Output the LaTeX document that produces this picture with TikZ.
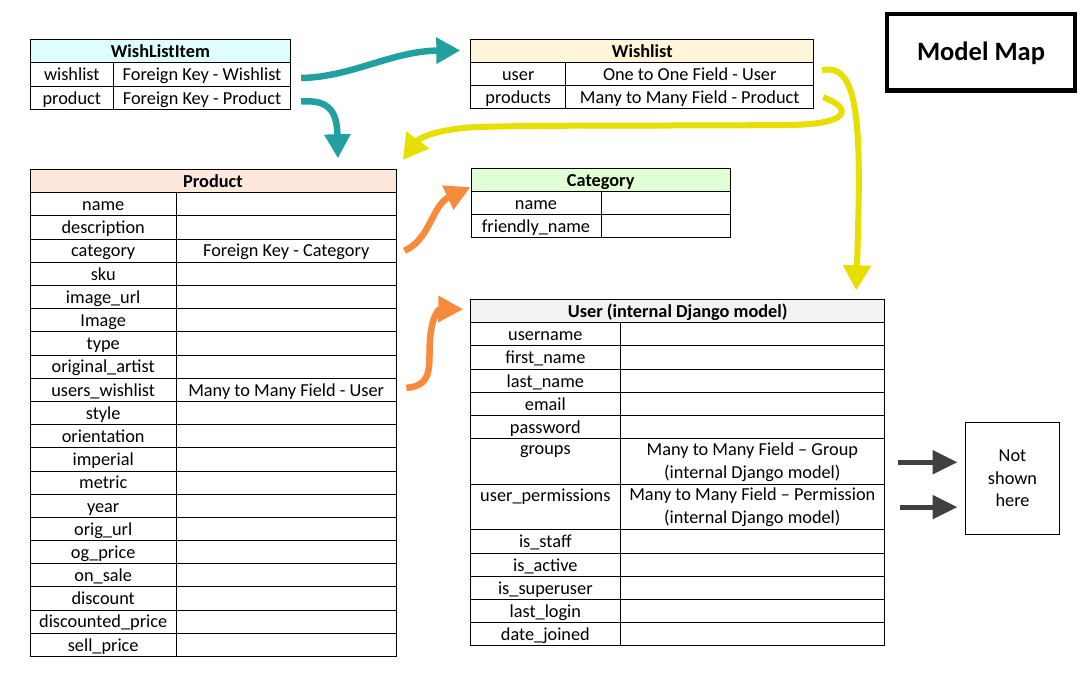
\documentclass[tikz,border=0pt]{standalone}
\usepackage{fontspec}
\setmainfont{Carlito}
\usetikzlibrary{arrows.meta,calc}
\definecolor{hcyan}{HTML}{DEFDFD}
\definecolor{hcream}{HTML}{FFF5D9}
\definecolor{hpeach}{HTML}{FDE9DC}
\definecolor{hgreen}{HTML}{E0FFD4}
\definecolor{hgray}{HTML}{F2F2F2}
\definecolor{tealc}{HTML}{22A0A0}
\definecolor{yelc}{HTML}{E6DF00}
\definecolor{orac}{HTML}{F88A3C}
\definecolor{grayc}{HTML}{404040}
\begin{document}
\begin{tikzpicture}[x=1pt,y=-1pt,
  cellbase/.style={draw=black, line width=0.9pt, rectangle, inner sep=0pt, anchor=north west, font=\fontsize{18.3}{23}\selectfont},
  cell/.style={cellbase, text height=15pt, text depth=2.5pt},
  cellml/.style={cellbase, align=center},
  head/.style={cell, font=\fontsize{18.3}{23}\selectfont\bfseries},
  tealarr/.style={draw=tealc, line width=6.5pt, -{Triangle[length=24pt,width=25pt]}},
  yelarr/.style={draw=yelc, line width=6pt, -{Triangle[length=25pt,width=27pt]}},
  oraarr/.style={draw=orac, line width=6.5pt, -{Triangle[length=25pt,width=25pt]}},
  grayarr/.style={draw=grayc, line width=5pt, -{Triangle[length=25pt,width=23pt]}},
  titlebox/.style={draw=black, line width=4.5pt, rectangle, minimum width=188pt, minimum height=76.5pt, text height=20pt, text depth=3pt, font=\fontsize{26.5}{30}\selectfont\bfseries},
  notebox/.style={draw=black, line width=0.9pt, rectangle, minimum width=94pt, minimum height=112pt, align=center, font=\fontsize{18.3}{22.5}\selectfont}
]
\useasboundingbox (0,0) rectangle (1089,682);

% ---------- WishListItem ----------
\node[head, fill=hcyan, minimum width=260.5pt, minimum height=23pt] (wlih) at (29.7,39.3) {WishListItem};
\node[cell, minimum width=83.3pt, minimum height=23.5pt] (wli1k) at (29.7,62.3) {wishlist};
\node[cell, minimum width=177.2pt, minimum height=23.5pt] (wli1v) at (113,62.3) {Foreign Key - Wishlist};
\node[cell, minimum width=83.3pt, minimum height=23.5pt] (wli2k) at (29.7,85.8) {product};
\node[cell, minimum width=177.2pt, minimum height=23.5pt] (wli2v) at (113,85.8) {Foreign Key - Product};

% ---------- Wishlist ----------
\node[head, fill=hcream, minimum width=343pt, minimum height=23pt] (wlh) at (470.3,39.3) {Wishlist};
\node[cell, minimum width=95pt, minimum height=23pt] (wl1k) at (470.3,62.3) {user};
\node[cell, minimum width=248pt, minimum height=23pt] (wl1v) at (565.3,62.3) {One to One Field - User};
\node[cell, minimum width=95pt, minimum height=23pt] (wl2k) at (470.3,85.3) {products};
\node[cell, minimum width=248pt, minimum height=23pt] (wl2v) at (565.3,85.3) {Many to Many Field - Product};

% ---------- Model Map ----------
\node[titlebox] (mm) at (981,52.5) {Model Map};

% ---------- Product ----------
\node[head, fill=hpeach, minimum width=366pt, minimum height=23pt] (ph) at (29.5,169.3) {Product};
\foreach \k/\v [count=\i from 0] in {name/{},description/{},category/Foreign Key - Category,sku/{},image\_url/{},Image/{},type/{},original\_artist/{},users\_wishlist/Many to Many Field - User,style/{},orientation/{},imperial/{},metric/{},year/{},orig\_url/{},og\_price/{},on\_sale/{},discount/{},discounted\_price/{},sell\_price/{}}{
  \pgfmathsetmacro\yy{192.3+\i*23.185}
  \node[cell, minimum width=146.5pt, minimum height=23.185pt] (p\i k) at (29.5,\yy) {\k};
  \node[cell, minimum width=219.5pt, minimum height=23.185pt] (p\i v) at (176,\yy) {\v};
}

% ---------- Category ----------
\node[head, fill=hgreen, minimum width=259.5pt, minimum height=22.7pt] (ch) at (470.5,168.3) {Category};
\node[cell, minimum width=130pt, minimum height=23pt] (c1k) at (470.5,191) {name};
\node[cell, minimum width=129.5pt, minimum height=23pt] (c1v) at (600.5,191) {};
\node[cell, minimum width=130pt, minimum height=23pt] (c2k) at (470.5,214) {friendly\_name};
\node[cell, minimum width=129.5pt, minimum height=23pt] (c2v) at (600.5,214) {};

% ---------- User ----------
\node[head, fill=hgray, minimum width=414pt, minimum height=23pt] (uh) at (470.3,299.3) {User (internal Django model)};
\foreach \k/\top/\h [count=\i] in {username/322.3/23, first\_name/345.3/23.7, last\_name/369/23.3, email/392.3/23, password/415.3/23}{
  \node[cell, minimum width=149.2pt, minimum height=\h pt] (u\i k) at (470.3,\top) {\k};
  \node[cell, minimum width=264.8pt, minimum height=\h pt] (u\i v) at (619.5,\top) {};
}
\node[cellml, minimum width=149.2pt, minimum height=46pt] (ugk) at (470.3,438.3) {groups\\~};
\node[cellml, minimum width=264.8pt, minimum height=46pt] (ugv) at (619.5,438.3) {Many to Many Field -- Group\\(internal Django model)};
\node[cellml, minimum width=149.2pt, minimum height=44.7pt] (upk) at (470.3,484.3) {user\_permissions\\~};
\node[cellml, minimum width=264.8pt, minimum height=44.7pt] (upv) at (619.5,484.3) {Many to Many Field -- Permission\\(internal Django model)};
\foreach \k/\top/\h [count=\i from 6] in {is\_staff/529/24.3, is\_active/553.3/23, is\_superuser/576.3/23, last\_login/599.3/23, date\_joined/622.3/22.7}{
  \node[cell, minimum width=149.2pt, minimum height=\h pt] (u\i k) at (470.3,\top) {\k};
  \node[cell, minimum width=264.8pt, minimum height=\h pt] (u\i v) at (619.5,\top) {};
}

% ---------- Not shown here ----------
\node[notebox] (ns) at (1012.5,478.3) {Not\\shown\\here};

% ---------- Connectors ----------
% WishListItem.wishlist -> Wishlist
\draw[tealarr] ($(wli1v.east)+(10,3.5)$) .. controls (352,77) and (392,51) .. ($(wlh.west)+(-10,-0.8)$);
% WishListItem.product -> Product
\draw[tealarr] ($(wli2v.east)+(10,3.5)$) .. controls (332,99) and (337,115) .. ($(ph.north east)+(-58.5,-11)$);
% Wishlist.user -> User
\draw[yelarr] ($(wl1v.east)+(8,-3.8)$) .. controls (862,60) and (861,140) .. ($(uh.north east)+(-29,-9)$);
% Wishlist.products -> Product
\draw[yelarr] ($(wl2v.east)+(9,0)$) .. controls (852,108) and (852,124) .. (790,125)
   .. controls (650,126) and (540,125) .. (480,127)
   .. controls (442,128) and (420,137) .. ($(ph.north east)+(6.5,-9.3)$);
% Product.category -> Category
\draw[oraarr] ($(p2v.east)+(8,0)$) .. controls (430,240) and (432,205) .. ($(ch.west)+(0,7)$);
% Product.users_wishlist -> User
\draw[oraarr] ($(p8v.east)+(10,-2)$) .. controls (435,386) and (428,362) .. (430,340)
   .. controls (432,313) and (440,309) .. ($(uh.west)+(-7,-2)$);
% groups / user_permissions -> Not shown here
\draw[grayarr] ($(ugv.east)+(13,0.5)$) -- ($(ns.west |- ugv.east)+(-7.5,0.5)$);
\draw[grayarr] ($(upv.east)+(15,0)$) -- ($(ns.west |- upv.east)+(-7.5,0)$);
\end{tikzpicture}
\end{document}
